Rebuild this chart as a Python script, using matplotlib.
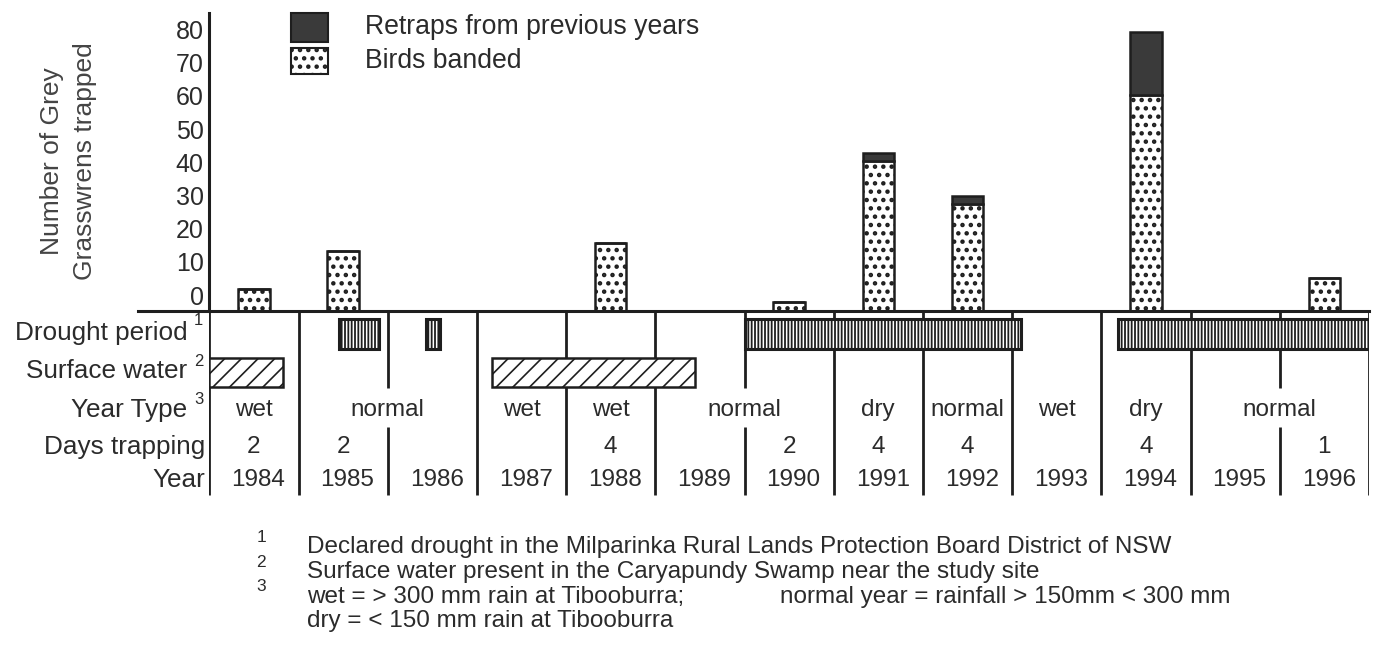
import matplotlib
matplotlib.use("Agg")
import matplotlib.pyplot as plt
from matplotlib.patches import Rectangle
from matplotlib.lines import Line2D

# ---------------- data ----------------
years = list(range(1984, 1997))
banded = [6.5, 18, 0, 0, 20.5, 0, 2.5, 45, 32, 0, 65, 0, 10]
retraps = [0, 0, 0, 0, 0, 0, 0, 2.5, 2.5, 0, 19, 0, 0]
y_tick_values = [0, 10, 20, 30, 40, 50, 60, 70, 80]
tick_label_offset = 4.7   # labels in the original sit above their nominal level

days_trapping = {1984: "2", 1985: "2", 1988: "4", 1990: "2", 1991: "4",
                 1992: "4", 1994: "4", 1996: "1"}
year_type = [("wet", 1984, 1984), ("normal", 1985, 1986), ("wet", 1987, 1987),
             ("wet", 1988, 1988), ("normal", 1989, 1990), ("dry", 1991, 1991),
             ("normal", 1992, 1992), ("wet", 1993, 1993), ("dry", 1994, 1994),
             ("normal", 1995, 1996)]
drought_periods = [(1985.45, 1985.90), (1986.43, 1986.59), (1990.0, 1993.10), (1994.19, 1997.0)]
surface_water = [(1984.0, 1984.83), (1987.17, 1989.44)]

row_labels = [("Drought period", "1"), ("Surface water", "2"), ("Year Type", "3"),
              ("Days trapping", None), ("Year", None)]
legend_labels = ["Retraps from previous years", "Birds banded"]
footnotes = [("1", "Declared drought in the Milparinka Rural Lands Protection Board District of NSW"),
             ("2", "Surface water present in the Caryapundy Swamp near the study site"),
             ("3", "wet = > 300 mm rain at Tibooburra;"),
             (None, "dry = < 150 mm rain at Tibooburra")]
footnote_extra = "normal year = rainfall > 150mm < 300 mm"
ylabel_lines = ["Number of Grey", "Grasswrens trapped"]

# ---------------- style ----------------
W, H = 1377, 666
plt.rcParams["font.family"] = ["Liberation Sans", "DejaVu Sans"]
plt.rcParams["hatch.linewidth"] = 1.0
TXT = "#2b2b2b"
LINE = "#1e1e1e"
DARK = "#3a3a3a"


def fx(px):
    return px / W


def fy(py):
    return 1 - py / H


def set_hatch_lw(artists, lw):
    for a in artists:
        try:
            a.set_hatch_linewidth(lw)
        except AttributeError:
            a._hatch_linewidth = lw


fig = plt.figure(figsize=(W / 100, H / 100), dpi=100)

x_left, x_right = 209.3, 1368.9
y_base, y_top = 310.7, 13.0
px_per_unit = 3.32

ax = fig.add_axes([fx(x_left), fy(y_base), fx(x_right) - fx(x_left), (y_base - y_top) / H])
ax.set_xlim(1984, 1997)
ax.set_ylim(0, (y_base - y_top) / px_per_unit)
for s in ["top", "right", "bottom"]:
    ax.spines[s].set_visible(False)
ax.spines["left"].set_linewidth(2.2)
ax.spines["left"].set_color(LINE)
ax.set_xticks([])
ax.set_yticks([v + tick_label_offset for v in y_tick_values])
ax.set_yticklabels([str(v) for v in y_tick_values])
ax.tick_params(axis="y", length=0, pad=4, labelsize=18, labelcolor=TXT)

centers = [y + 0.5 for y in years]
bw = 0.35
b1 = ax.bar(centers, banded, width=bw, color="white", edgecolor=LINE, hatch="..", linewidth=1.8, zorder=3)
set_hatch_lw(b1, 2.0)
ax.bar(centers, retraps, width=bw, bottom=banded, color=DARK, edgecolor=LINE, linewidth=1.8, zorder=3)

# baseline
fig.add_artist(Line2D([fx(137.7), fx(x_right)], [fy(y_base), fy(y_base)], color=LINE, lw=2.2))

# y label
fig.text(fx(51.7), fy(161.5), ylabel_lines[0], rotation=90, ha="center", va="center",
         fontsize=19, color="#444444")
fig.text(fx(85.0), fy(161.5), ylabel_lines[1], rotation=90, ha="center", va="center",
         fontsize=19, color="#444444")

# legend
lg = [(13.3, 41.7), (48.3, 74.0)]
for (t, b), lab, style in zip(lg, legend_labels, ["dark", "dots"]):
    if style == "dark":
        r = Rectangle((fx(290.7), fy(b)), fx(328.3) - fx(290.7), (b - t) / H,
                      transform=fig.transFigure, facecolor=DARK, edgecolor=LINE, lw=1.5)
    else:
        r = Rectangle((fx(290.7), fy(b)), fx(328.3) - fx(290.7), (b - t) / H,
                      transform=fig.transFigure, facecolor="white", edgecolor=LINE, lw=1.5, hatch="..")
        set_hatch_lw([r], 2.0)
    fig.add_artist(r)
    fig.text(fx(365), fy((t + b) / 2), lab, ha="left", va="center", fontsize=19.2, color=TXT)

# ---------------- table below ----------------
y_tab_bottom = 500.0
tax = fig.add_axes([fx(x_left), fy(y_tab_bottom), fx(x_right) - fx(x_left), (y_tab_bottom - y_base) / H])
tax.set_xlim(1984, 1997)
tax.set_ylim(y_tab_bottom, y_base)
tax.axis("off")

# vertical column lines (gaps where a year-type label spans two columns)
gap_bounds = set()
for lab, a, b in year_type:
    for k in range(a + 1, b + 1):
        gap_bounds.add(k)
line_bottom = 495.5
for bnd in range(1984, 1998):
    if bnd in gap_bounds:
        tax.plot([bnd, bnd], [y_base, 388.0], color=LINE, lw=2.0, zorder=1, solid_capstyle="butt")
        tax.plot([bnd, bnd], [426.7, line_bottom], color=LINE, lw=2.0, zorder=1, solid_capstyle="butt")
    else:
        tax.plot([bnd, bnd], [y_base, line_bottom], color=LINE, lw=2.0, zorder=1, solid_capstyle="butt")

# drought bars
dp = []
for a, b in drought_periods:
    dp.append(tax.add_patch(Rectangle((a, 319.0), b - a, 349.3 - 319.0, facecolor="white",
                                      edgecolor=LINE, lw=2.2, hatch="|||||", zorder=3)))
set_hatch_lw(dp, 1.3)
# surface water bars
sw = []
for a, b in surface_water:
    sw.append(tax.add_patch(Rectangle((a, 357.7), b - a, 387.3 - 357.7, facecolor="white",
                                      edgecolor=LINE, lw=1.8, hatch="//", zorder=3)))
set_hatch_lw(sw, 1.2)

# year type
for lab, a, b in year_type:
    tax.text((a + b + 1) / 2, 410.0, lab, ha="center", va="center", fontsize=17.5, color=TXT)
# days trapping
for yr, d in days_trapping.items():
    tax.text(yr + 0.5, 446.7, d, ha="center", va="center", fontsize=17.5, color=TXT)
# years
for yr in years:
    tax.text(yr + 0.55, 480.0, str(yr), ha="center", va="center", fontsize=17.5, color=TXT)

# row labels
row_y = [333.3, 371.0, 410.0, 446.7, 480.0]
sup_y = [320.0, 361.7, 400.0]
for i, ((lab, sup), yy) in enumerate(zip(row_labels, row_y)):
    if sup is not None:
        fig.text(fx(187.5), fy(yy), lab, ha="right", va="center", fontsize=18.8, color=TXT)
        fig.text(fx(198.5), fy(sup_y[i]), sup, ha="center", va="center", fontsize=12, color=TXT)
    else:
        fig.text(fx(205.5), fy(yy), lab, ha="right", va="center", fontsize=18.8, color=TXT)

# footnotes
fn_y = [547.5, 572.0, 596.5, 621.0]
fn_sup_y = [537.5, 562.5, 586.5]
for i, ((sup, txt), yy) in enumerate(zip(footnotes, fn_y)):
    if sup is not None:
        fig.text(fx(261), fy(fn_sup_y[i]), sup, ha="center", va="center", fontsize=12.5, color=TXT)
    fig.text(fx(306.7), fy(yy), txt, ha="left", va="center", fontsize=17.5, color=TXT)
fig.text(fx(780), fy(fn_y[2]), footnote_extra, ha="left", va="center", fontsize=17.5, color=TXT)

fig.savefig("out.png", dpi=100, facecolor="white")
